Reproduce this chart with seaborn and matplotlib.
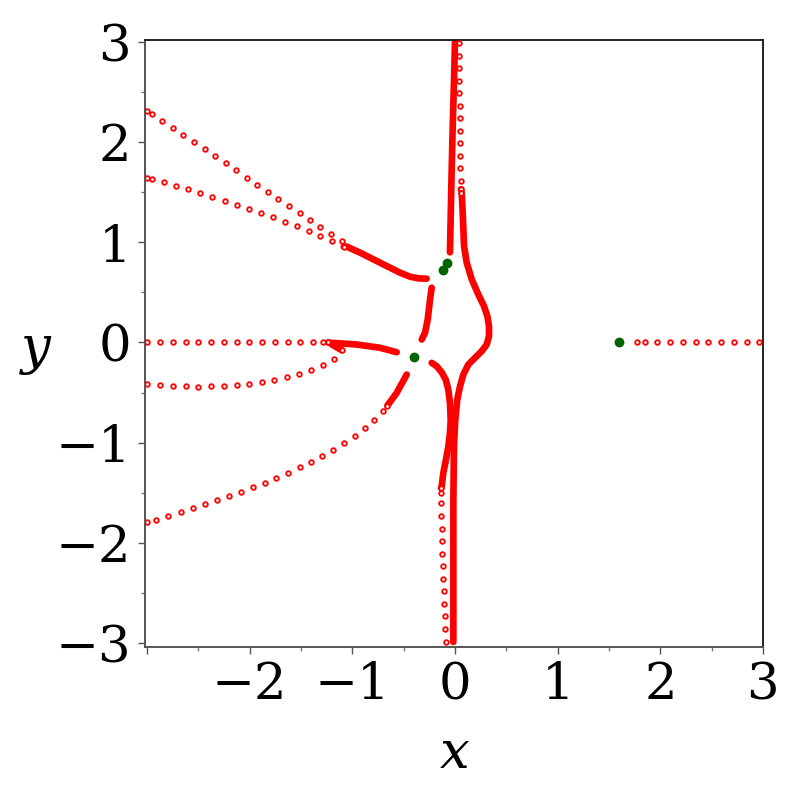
import matplotlib
matplotlib.use("Agg")
import matplotlib.pyplot as plt
import seaborn as sns
from matplotlib.ticker import MultipleLocator

# sparse (dotted) parts of the branches
top_a_x = [-3.0, -2.953, -2.853, -2.749, -2.646, -2.541, -2.437, -2.334, -2.23, -2.13,
           -2.028, -1.925, -1.824, -1.72, -1.616, -1.512, -1.412, -1.312, -1.207, -1.103]
top_a_y = [2.313, 2.28, 2.21, 2.137, 2.07, 2.0, 1.93, 1.86, 1.79, 1.72,
           1.647, 1.577, 1.507, 1.433, 1.363, 1.293, 1.223, 1.153, 1.083, 1.013]

top_b_x = [-3.0, -2.953, -2.837, -2.72, -2.597, -2.48, -2.363, -2.24, -2.123, -2.006,
           -1.889, -1.772, -1.655, -1.541, -1.425, -1.312, -1.198, -1.084]
top_b_y = [1.647, 1.63, 1.6, 1.563, 1.53, 1.49, 1.453, 1.417, 1.373, 1.337,
           1.293, 1.25, 1.203, 1.16, 1.113, 1.063, 1.013, 0.957]

mid_x = [-3.0, -2.872, -2.749, -2.622, -2.499, -2.376, -2.249, -2.126, -2.003, -1.876,
         -1.753, -1.63, -1.506, -1.379, -1.288, -1.234]
mid_y = [0.0] * 16

low_a_x = [-3.0, -2.872, -2.749, -2.622, -2.499, -2.376, -2.249, -2.126, -2.003, -1.882,
           -1.759, -1.639, -1.519, -1.402, -1.288, -1.178, -1.103]
low_a_y = [-0.41, -0.42, -0.43, -0.437, -0.44, -0.437, -0.433, -0.427, -0.413, -0.397,
           -0.377, -0.347, -0.313, -0.273, -0.22, -0.163, -0.077]

low_b_x = [-3.0, -2.911, -2.792, -2.671, -2.554, -2.434, -2.317, -2.204, -2.087, -1.97,
           -1.853, -1.74, -1.626, -1.512, -1.405, -1.292, -1.188, -1.081, -0.977, -0.876,
           -0.786, -0.704, -0.659]
low_b_y = [-1.797, -1.77, -1.737, -1.697, -1.657, -1.617, -1.577, -1.537, -1.493, -1.447,
           -1.40, -1.353, -1.303, -1.247, -1.193, -1.133, -1.07, -1.003, -0.933, -0.853,
           -0.77, -0.68, -0.63]

up_col_x = [0.037, 0.039, 0.039, 0.042, 0.042, 0.045, 0.049, 0.049, 0.049, 0.052,
            0.052, 0.055, 0.058, 0.058]
up_col_y = [2.99, 2.863, 2.737, 2.613, 2.49, 2.363, 2.237, 2.113, 1.987, 1.863,
            1.737, 1.613, 1.53, 1.497]

down_col_x = [-0.136, -0.136, -0.136, -0.133, -0.13, -0.127, -0.123, -0.117, -0.114, -0.11,
              -0.104, -0.1, -0.097, -0.091]
down_col_y = [-1.453, -1.503, -1.607, -1.733, -1.857, -1.98, -2.107, -2.233, -2.357, -2.48,
              -2.607, -2.73, -2.857, -2.987]

right_x = [1.775, 1.85, 1.97, 2.094, 2.22, 2.344, 2.466, 2.59, 2.713, 2.84, 2.963]
right_y = [0.0] * 11

# dense (solid) parts of the branches
arc_ul_x = [-1.084, -1.055, -0.925, -0.795, -0.665, -0.536, -0.438, -0.357, -0.276]
arc_ul_y = [0.957, 0.957, 0.897, 0.83, 0.763, 0.697, 0.657, 0.64, 0.637]

seg_c_x = [-0.227, -0.243, -0.266, -0.292, -0.324]
seg_c_y = [0.547, 0.43, 0.23, 0.097, 0.03]

mid_tail_x = [-1.234, -1.207, -0.957, -0.73, -0.568]
mid_tail_y = [0.0, -0.003, -0.02, -0.053, -0.097]

hook_x = [-1.103, -1.2]
hook_y = [-0.077, -0.02]

low_tail_x = [-0.659, -0.568, -0.47]
low_tail_y = [-0.63, -0.503, -0.32]

stem_x = [0.0, -0.01, -0.023, -0.035, -0.049]
stem_y = [3.0, 2.6, 2.13, 1.6, 0.9]

bulge_x = [0.058, 0.065, 0.075, 0.088, 0.114, 0.163, 0.227, 0.282, 0.315, 0.331,
           0.331, 0.309, 0.26, 0.195, 0.13, 0.081, 0.049, 0.022, 0.003, -0.01,
           -0.016, -0.016]
bulge_y = [1.53, 1.497, 1.297, 0.963, 0.797, 0.63, 0.48, 0.363, 0.263, 0.163,
           0.063, -0.02, -0.087, -0.153, -0.22, -0.32, -0.437, -0.57, -0.77, -1.037,
           -1.57, -2.99]

inner_x = [-0.227, -0.178, -0.13, -0.091, -0.065, -0.049, -0.042, -0.049, -0.065, -0.088,
           -0.114, -0.13, -0.136]
inner_y = [-0.203, -0.237, -0.297, -0.37, -0.47, -0.603, -0.77, -0.903, -1.037, -1.17,
           -1.303, -1.437, -1.453]

# open-loop poles (green)
pole_x = [-0.081, -0.114, -0.396, 1.6]
pole_y = [0.79, 0.723, -0.147, 0.0]

x_ticks = [-3, -2, -1, 0, 1, 2, 3]
x_tick_labels = ["", "\u22122", "\u22121", "0", "1", "2", "3"]
y_ticks = [-3, -2, -1, 0, 1, 2, 3]
y_tick_labels = ["\u22123", "\u22122", "\u22121", "0", "1", "2", "3"]


def main():
    sns.set_style("ticks")
    plt.rcParams["font.family"] = ["DejaVu Serif"]

    fig = plt.figure(figsize=(7.9, 7.9), dpi=100)
    ax = fig.add_axes([0.1835, 0.181, 0.7823, 0.7684])

    solids = [(arc_ul_x, arc_ul_y), (seg_c_x, seg_c_y), (mid_tail_x, mid_tail_y),
              (hook_x, hook_y), (low_tail_x, low_tail_y), (stem_x, stem_y),
              (bulge_x, bulge_y), (inner_x, inner_y)]
    for xs, ys in solids:
        sns.lineplot(x=xs, y=ys, sort=False, estimator=None, color="#ff0000",
                     lw=4.8, solid_capstyle="round", solid_joinstyle="round",
                     ax=ax, zorder=2)

    dotted = [(top_a_x, top_a_y), (top_b_x, top_b_y), (mid_x, mid_y),
              (low_a_x, low_a_y), (low_b_x, low_b_y), (up_col_x, up_col_y),
              (down_col_x, down_col_y), (right_x, right_y)]
    for xs, ys in dotted:
        sns.scatterplot(x=xs, y=ys, marker="o", s=11, color="white",
                        edgecolor="#ff0000", linewidth=1.3, ax=ax, zorder=3)

    sns.scatterplot(x=pole_x, y=pole_y, s=50, color="#006400",
                    edgecolor="#006400", linewidth=0, ax=ax, zorder=4)

    ax.set_xlim(-3.02, 3.0)
    ax.set_ylim(-3.04, 3.02)
    ax.set_xticks(x_ticks)
    ax.set_xticklabels(x_tick_labels)
    ax.set_yticks(y_ticks)
    ax.set_yticklabels(y_tick_labels)
    ax.xaxis.set_minor_locator(MultipleLocator(0.5))
    ax.yaxis.set_minor_locator(MultipleLocator(0.5))
    ax.tick_params(axis="both", which="major", direction="out", length=5,
                   width=1, color="#555555", labelsize=37, labelcolor="black", pad=5)
    ax.tick_params(axis="both", which="minor", direction="out", length=3,
                   width=1, color="#777777")

    for side in ["left", "bottom", "top", "right"]:
        ax.spines[side].set_visible(True)
        ax.spines[side].set_linewidth(1.4)
    ax.spines["left"].set_color("#555555")
    ax.spines["bottom"].set_color("#555555")
    ax.spines["top"].set_color("#222222")
    ax.spines["right"].set_color("#222222")

    ax.set_xlabel("x", fontsize=38, style="italic", color="black")
    ax.set_ylabel("y", fontsize=38, style="italic", rotation=0, color="black")
    ax.xaxis.set_label_coords(0.5016, -0.176)
    ax.yaxis.set_label_coords(-0.176, 0.49)
    ax.xaxis.label.set_va("center")
    ax.yaxis.label.set_va("center")
    ax.yaxis.label.set_ha("center")

    fig.savefig("out.png", dpi=100)


if __name__ == "__main__":
    main()
